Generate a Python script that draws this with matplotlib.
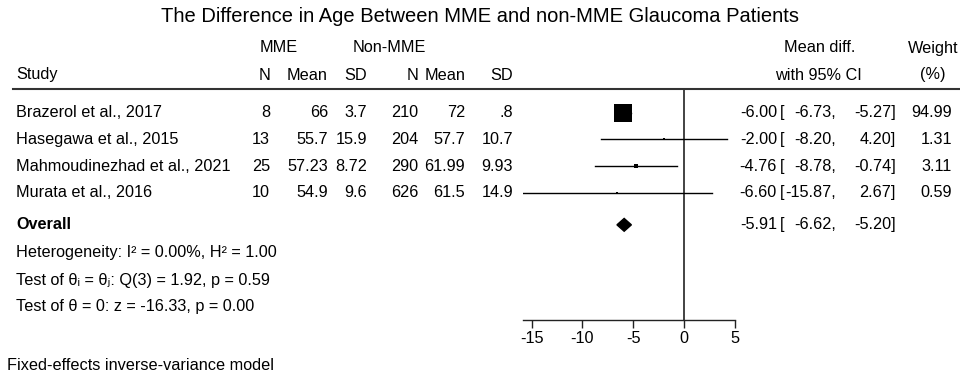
import matplotlib
matplotlib.use("Agg")
import matplotlib.pyplot as plt
import matplotlib.transforms as mtransforms
from matplotlib.lines import Line2D
from matplotlib.patches import Polygon

plt.rcParams['font.family'] = ['Liberation Sans', 'DejaVu Sans']

# ---- data ----
studies = ["Brazerol et al., 2017", "Hasegawa et al., 2015",
           "Mahmoudinezhad et al., 2021", "Murata et al., 2016"]
mme_n = ["8", "13", "25", "10"]
mme_mean = ["66", "55.7", "57.23", "54.9"]
mme_sd = ["3.7", "15.9", "8.72", "9.6"]
non_n = ["210", "204", "290", "626"]
non_mean = ["72", "57.7", "61.99", "61.5"]
non_sd = [".8", "10.7", "9.93", "14.9"]
md = [-6.00, -2.00, -4.76, -6.60]
ci_lo = [-6.73, -8.20, -8.78, -15.87]
ci_hi = [-5.27, 4.20, -0.74, 2.67]
weight = [94.99, 1.31, 3.11, 0.59]
overall_md, overall_lo, overall_hi = -5.91, -6.62, -5.20
xticks = [-15, -10, -5, 0, 5]

W, H = 960, 374
fig = plt.figure(figsize=(W / 100, H / 100), dpi=100)

def fx(px):
    return px / W

def fy(py):
    return 1 - py / H

# forest axes: x from -15.87..5 ; y in row units
row_px0, row_step = 112.7, 26.7
ax_top, ax_bot = 89, 320
ax_left, ax_right = 522.7, 735.3
ax = fig.add_axes([fx(ax_left), fy(ax_bot), fx(ax_right - ax_left), (ax_bot - ax_top) / H])
ax.set_xlim(-15.87, 5)
ax.set_ylim((ax_bot - row_px0) / row_step, (ax_top - row_px0) / row_step)
for s in ["top", "right", "left"]:
    ax.spines[s].set_visible(False)
ax.spines["bottom"].set_linewidth(1.0)
ax.spines["bottom"].set_color("#222222")
ax.set_yticks([])
ax.set_xticks(xticks)
ax.set_xticklabels([str(t) for t in xticks])
ax.tick_params(axis="x", direction="out", length=6, width=1.0, color="#222222",
               labelsize=11.7, pad=2)
ax.axvline(0, color="#222222", lw=1.2)

rows = list(range(len(studies)))
overall_row = 4.2
for i in rows:
    ax.plot([ci_lo[i], ci_hi[i]], [i, i], color="black", lw=1.0, zorder=2)
    ax.scatter([md[i]], [i], marker="s", s=weight[i] * 1.75, color="black",
               linewidths=0, zorder=3)
dh = 0.24
ax.add_patch(Polygon([[overall_lo, overall_row], [overall_md, overall_row - dh],
                      [overall_hi, overall_row], [overall_md, overall_row + dh]],
                     closed=True, color="black", zorder=3))

trans = mtransforms.blended_transform_factory(fig.transFigure, ax.transData)
fs = 11.7

# title and headers
fig.text(0.5, fy(17), "The Difference in Age Between MME and non-MME Glaucoma Patients",
         ha="center", va="center", fontsize=14.5)
fig.text(fx(279), fy(48), "MME", ha="center", va="center", fontsize=fs)
fig.text(fx(389), fy(48), "Non-MME", ha="center", va="center", fontsize=fs)
fig.text(fx(820), fy(48), "Mean diff.", ha="center", va="center", fontsize=fs)
fig.text(fx(933), fy(48), "Weight", ha="center", va="center", fontsize=fs)
hy = fy(75)
fig.text(fx(16), hy, "Study", ha="left", va="center", fontsize=fs)
col_x = [270, 328, 367, 418, 465, 513]
for x, lab in zip(col_x, ["N", "Mean", "SD", "N", "Mean", "SD"]):
    fig.text(fx(x), hy, lab, ha="right", va="center", fontsize=fs)
fig.text(fx(818), hy, "with 95% CI", ha="center", va="center", fontsize=fs)
fig.text(fx(933), hy, "(%)", ha="center", va="center", fontsize=fs)
fig.add_artist(Line2D([fx(13), fx(960)], [fy(89), fy(89)], color="#333333", lw=1.5,
                      transform=fig.transFigure))

cols = [mme_n, mme_mean, mme_sd, non_n, non_mean, non_sd]
for i in rows:
    fig.text(fx(16), i, studies[i], transform=trans, ha="left", va="center", fontsize=fs)
    for x, col in zip(col_x, cols):
        ax.text(fx(x), i, col[i], transform=trans, ha="right", va="center", fontsize=fs)
    ax.text(fx(777), i, f"{md[i]:.2f}", transform=trans, ha="right", va="center", fontsize=fs)
    ax.text(fx(780), i, "[", transform=trans, ha="left", va="center", fontsize=fs)
    ax.text(fx(836), i, f"{ci_lo[i]:.2f},", transform=trans, ha="right", va="center", fontsize=fs)
    ax.text(fx(896), i, f"{ci_hi[i]:.2f}]", transform=trans, ha="right", va="center", fontsize=fs)
    ax.text(fx(952), i, f"{weight[i]:.2f}", transform=trans, ha="right", va="center", fontsize=fs)

ax.text(fx(16), overall_row, "Overall", transform=trans, ha="left", va="center",
        fontsize=fs, fontweight="bold")
ax.text(fx(777), overall_row, f"{overall_md:.2f}", transform=trans, ha="right", va="center", fontsize=fs)
ax.text(fx(780), overall_row, "[", transform=trans, ha="left", va="center", fontsize=fs)
ax.text(fx(836), overall_row, f"{overall_lo:.2f},", transform=trans, ha="right", va="center", fontsize=fs)
ax.text(fx(896), overall_row, f"{overall_hi:.2f}]", transform=trans, ha="right", va="center", fontsize=fs)

fig.text(fx(16), fy(253), "Heterogeneity: I² = 0.00%, H² = 1.00", ha="left", va="center", fontsize=fs)
fig.text(fx(16), fy(280), "Test of θᵢ = θⱼ: Q(3) = 1.92, p = 0.59", ha="left", va="center", fontsize=fs)
fig.text(fx(16), fy(307), "Test of θ = 0: z = -16.33, p = 0.00", ha="left", va="center", fontsize=fs)
fig.text(fx(7), fy(365), "Fixed-effects inverse-variance model", ha="left", va="center", fontsize=fs)

fig.savefig("out.png", dpi=100, facecolor="white")
